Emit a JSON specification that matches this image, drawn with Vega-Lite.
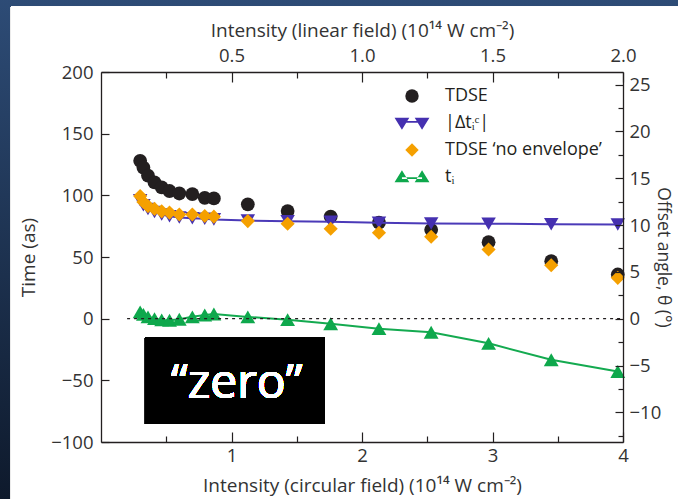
{
  "$schema": "https://vega.github.io/schema/vega-lite/v6.json",
  "width": 522,
  "height": 370,
  "autosize": "none",
  "padding": {"left": 101, "top": 72, "right": 55, "bottom": 57},
  "background": "#1c3150",
  "config": {
    "view": {"stroke": null},
    "font": "Open Sans",
    "axis": {
      "grid": false,
      "zindex": 2,
      "domainColor": "#231f20",
      "domainWidth": 1.3,
      "tickColor": "#231f20",
      "tickWidth": 1.2,
      "labelFont": "Open Sans",
      "labelFontSize": 18.5,
      "labelColor": "#333333",
      "labelFlush": false,
      "labelOverlap": false,
      "titleFont": "Open Sans",
      "titleFontSize": 19,
      "titleFontWeight": "normal",
      "titleColor": "#333333"
    }
  },
  "layer": [
    {
      "data": {
        "values": [
          {"series": "TDSE", "c": 0.30, "t": 128},
          {"series": "TDSE", "c": 0.325, "t": 122.5},
          {"series": "TDSE", "c": 0.36, "t": 116},
          {"series": "TDSE", "c": 0.41, "t": 110.5},
          {"series": "TDSE", "c": 0.465, "t": 106.5},
          {"series": "TDSE", "c": 0.525, "t": 103.5},
          {"series": "TDSE", "c": 0.60, "t": 101.5},
          {"series": "TDSE", "c": 0.70, "t": 101},
          {"series": "TDSE", "c": 0.795, "t": 98},
          {"series": "TDSE", "c": 0.865, "t": 97.5},
          {"series": "TDSE", "c": 1.125, "t": 92.7},
          {"series": "TDSE", "c": 1.43, "t": 87.2},
          {"series": "TDSE", "c": 1.76, "t": 82.7},
          {"series": "TDSE", "c": 2.13, "t": 77.8},
          {"series": "TDSE", "c": 2.53, "t": 72},
          {"series": "TDSE", "c": 2.97, "t": 62},
          {"series": "TDSE", "c": 3.45, "t": 46.6},
          {"series": "TDSE", "c": 3.96, "t": 35.8},
          {"series": "|Δtᵢᶜ|", "c": 0.30, "t": 96},
          {"series": "|Δtᵢᶜ|", "c": 0.325, "t": 92},
          {"series": "|Δtᵢᶜ|", "c": 0.36, "t": 89},
          {"series": "|Δtᵢᶜ|", "c": 0.41, "t": 86.5},
          {"series": "|Δtᵢᶜ|", "c": 0.465, "t": 84.5},
          {"series": "|Δtᵢᶜ|", "c": 0.525, "t": 83},
          {"series": "|Δtᵢᶜ|", "c": 0.60, "t": 82},
          {"series": "|Δtᵢᶜ|", "c": 0.70, "t": 81.5},
          {"series": "|Δtᵢᶜ|", "c": 0.795, "t": 81},
          {"series": "|Δtᵢᶜ|", "c": 0.865, "t": 80.5},
          {"series": "|Δtᵢᶜ|", "c": 1.125, "t": 79.5},
          {"series": "|Δtᵢᶜ|", "c": 1.43, "t": 79},
          {"series": "|Δtᵢᶜ|", "c": 1.76, "t": 78.5},
          {"series": "|Δtᵢᶜ|", "c": 2.13, "t": 77.8},
          {"series": "|Δtᵢᶜ|", "c": 2.53, "t": 77.2},
          {"series": "|Δtᵢᶜ|", "c": 2.97, "t": 77},
          {"series": "|Δtᵢᶜ|", "c": 3.45, "t": 76.6},
          {"series": "|Δtᵢᶜ|", "c": 3.96, "t": 76.4},
          {"series": "TDSE ‘no envelope’", "c": 0.30, "t": 99.4},
          {"series": "TDSE ‘no envelope’", "c": 0.325, "t": 94.6},
          {"series": "TDSE ‘no envelope’", "c": 0.36, "t": 91.3},
          {"series": "TDSE ‘no envelope’", "c": 0.41, "t": 89},
          {"series": "TDSE ‘no envelope’", "c": 0.465, "t": 87},
          {"series": "TDSE ‘no envelope’", "c": 0.525, "t": 86},
          {"series": "TDSE ‘no envelope’", "c": 0.60, "t": 84.5},
          {"series": "TDSE ‘no envelope’", "c": 0.70, "t": 84.5},
          {"series": "TDSE ‘no envelope’", "c": 0.795, "t": 83.2},
          {"series": "TDSE ‘no envelope’", "c": 0.865, "t": 82.7},
          {"series": "TDSE ‘no envelope’", "c": 1.125, "t": 79.1},
          {"series": "TDSE ‘no envelope’", "c": 1.43, "t": 77},
          {"series": "TDSE ‘no envelope’", "c": 1.76, "t": 72.9},
          {"series": "TDSE ‘no envelope’", "c": 2.13, "t": 69.7},
          {"series": "TDSE ‘no envelope’", "c": 2.53, "t": 66.4},
          {"series": "TDSE ‘no envelope’", "c": 2.97, "t": 56.1},
          {"series": "TDSE ‘no envelope’", "c": 3.45, "t": 43.3},
          {"series": "TDSE ‘no envelope’", "c": 3.96, "t": 33.1},
          {"series": "tᵢ", "c": 0.30, "t": 5.5},
          {"series": "tᵢ", "c": 0.325, "t": 3.5},
          {"series": "tᵢ", "c": 0.36, "t": 1.5},
          {"series": "tᵢ", "c": 0.41, "t": 0},
          {"series": "tᵢ", "c": 0.465, "t": -1},
          {"series": "tᵢ", "c": 0.525, "t": -1.3},
          {"series": "tᵢ", "c": 0.60, "t": -0.5},
          {"series": "tᵢ", "c": 0.70, "t": 1.5},
          {"series": "tᵢ", "c": 0.795, "t": 3},
          {"series": "tᵢ", "c": 0.865, "t": 3.8},
          {"series": "tᵢ", "c": 1.125, "t": 1.4},
          {"series": "tᵢ", "c": 1.43, "t": -0.8},
          {"series": "tᵢ", "c": 1.76, "t": -4.1},
          {"series": "tᵢ", "c": 2.13, "t": -8.1},
          {"series": "tᵢ", "c": 2.53, "t": -11},
          {"series": "tᵢ", "c": 2.97, "t": -20},
          {"series": "tᵢ", "c": 3.45, "t": -33.3},
          {"series": "tᵢ", "c": 3.96, "t": -42.8}
        ]
      },
      "layer": [
        {
          "mark": {"type": "rect", "fill": {"gradient": "linear", "x1": 0, "y1": 0, "x2": 0, "y2": 1, "stops": [{"offset": 0, "color": "#2e4d78"}, {"offset": 1, "color": "#0a1322"}]}},
          "encoding": {
            "x": {"datum": -1, "type": "quantitative", "scale": {"domain": [0, 4], "nice": false, "zero": false}},
            "x2": {"datum": 4.6},
            "y": {"datum": 270, "type": "quantitative", "scale": {"domain": [-100, 200], "nice": false, "zero": false}},
            "y2": {"datum": -200}
          }
        },
        {
          "mark": {"type": "rect", "fill": "#ffffff"},
          "encoding": {
            "x": {"datum": -0.69, "type": "quantitative", "scale": {"domain": [0, 4], "nice": false, "zero": false}},
            "x2": {"datum": 4.6},
            "y": {"datum": 253, "type": "quantitative", "scale": {"domain": [-100, 200], "nice": false, "zero": false}},
            "y2": {"datum": -200}
          }
        },
        {
          "mark": {"type": "rect", "fill": "#000000"},
          "encoding": {
            "x": {"datum": 0.337, "type": "quantitative", "scale": {"domain": [0, 4], "nice": false, "zero": false}},
            "x2": {"datum": 1.714},
            "y": {"datum": -15.4, "type": "quantitative", "scale": {"domain": [-100, 200], "nice": false, "zero": false}},
            "y2": {"datum": -85.4}
          }
        },
        {
          "mark": {"type": "text", "text": "“zero”", "font": "Open Sans", "fontSize": 48, "color": "#ffffff", "align": "center", "baseline": "alphabetic"},
          "encoding": {
            "x": {"datum": 1.04, "type": "quantitative", "scale": {"domain": [0, 4], "nice": false, "zero": false}},
            "y": {"datum": -64.2, "type": "quantitative", "scale": {"domain": [-100, 200], "nice": false, "zero": false}}
          }
        },
        {
          "transform": [{"filter": "datum.series === 'TDSE'"}],
          "mark": {"type": "point", "shape": "circle", "filled": true, "opacity": 1, "color": "#231f20", "size": 190},
          "encoding": {
            "x": {
              "field": "c", "type": "quantitative",
              "scale": {"domain": [0, 4], "nice": false, "zero": false},
              "axis": {
                "orient": "bottom",
                "zindex": 2,
                "title": "Intensity (circular field) (10¹⁴ W cm⁻²)",
                "values": [0.5, 1, 1.5, 2, 2.5, 3, 3.5, 4],
                "labelExpr": "datum.value % 1 === 0 ? format(datum.value, 'd') : ''",
                "tickSize": {"condition": {"test": "datum.value % 1 === 0", "value": -10}, "value": -6},
                "labelPadding": 14,
                "titleY": 49,
                "titleBaseline": "alphabetic"
              }
            },
            "y": {
              "field": "t", "type": "quantitative",
              "scale": {"domain": [-100, 200], "nice": false, "zero": false},
              "axis": {
                "orient": "left",
                "zindex": 2,
                "title": "Time (as)",
                "values": [-100, -75, -50, -25, 0, 25, 50, 75, 100, 125, 150, 175, 200],
                "labelExpr": "datum.value % 50 === 0 ? format(datum.value, 'd') : ''",
                "tickSize": {"condition": {"test": "datum.value % 50 === 0", "value": -8}, "value": -5},
                "labelPadding": 16,
                "titleX": -73,
                "titleY": 185,
                "titleAngle": 270,
                "titleAlign": "center",
                "titleBaseline": "middle"
              }
            }
          }
        },
        {
          "transform": [{"filter": "datum.series === '|Δtᵢᶜ|'"}],
          "mark": {"type": "line", "color": "#4b3ab8", "strokeWidth": 2},
          "encoding": {
            "x": {"field": "c", "type": "quantitative", "scale": {"domain": [0, 4], "nice": false, "zero": false}},
            "y": {"field": "t", "type": "quantitative", "scale": {"domain": [-100, 200], "nice": false, "zero": false}}
          }
        },
        {
          "transform": [{"filter": "datum.series === '|Δtᵢᶜ|'"}],
          "mark": {"type": "point", "shape": "triangle-down", "filled": true, "opacity": 1, "color": "#4530b0", "size": 210},
          "encoding": {
            "x": {"field": "c", "type": "quantitative", "scale": {"domain": [0, 4], "nice": false, "zero": false}},
            "y": {"field": "t", "type": "quantitative", "scale": {"domain": [-100, 200], "nice": false, "zero": false}}
          }
        },
        {
          "transform": [{"filter": "datum.series === 'tᵢ'"}],
          "mark": {"type": "line", "color": "#14aa50", "strokeWidth": 2},
          "encoding": {
            "x": {"field": "c", "type": "quantitative", "scale": {"domain": [0, 4], "nice": false, "zero": false}},
            "y": {"field": "t", "type": "quantitative", "scale": {"domain": [-100, 200], "nice": false, "zero": false}}
          }
        },
        {
          "transform": [{"filter": "datum.series === 'tᵢ'"}],
          "mark": {"type": "point", "shape": "triangle-up", "filled": true, "opacity": 1, "color": "#0ea84c", "size": 220},
          "encoding": {
            "x": {"field": "c", "type": "quantitative", "scale": {"domain": [0, 4], "nice": false, "zero": false}},
            "y": {"field": "t", "type": "quantitative", "scale": {"domain": [-100, 200], "nice": false, "zero": false}}
          }
        },
        {
          "transform": [{"filter": "datum.series === 'TDSE ‘no envelope’'"}],
          "mark": {"type": "point", "shape": "diamond", "filled": true, "opacity": 1, "color": "#f5a000", "size": 200},
          "encoding": {
            "x": {"field": "c", "type": "quantitative", "scale": {"domain": [0, 4], "nice": false, "zero": false}},
            "y": {"field": "t", "type": "quantitative", "scale": {"domain": [-100, 200], "nice": false, "zero": false}}
          }
        },
        {
          "transform": [{"filter": "false"}],
          "mark": {"type": "point", "filled": true, "opacity": 1},
          "encoding": {
            "x": {"field": "c", "type": "quantitative", "scale": {"domain": [0, 4], "nice": false, "zero": false}},
            "y": {"field": "t", "type": "quantitative", "scale": {"domain": [-100, 200], "nice": false, "zero": false}},
            "color": {
              "field": "series", "type": "nominal",
              "scale": {"domain": ["TDSE", "|Δtᵢᶜ|", "TDSE ‘no envelope’", "tᵢ"], "range": ["#231f20", "#4530b0", "#f5a000", "#0ea84c"]},
              "legend": {
                "orient": "none", "legendX": 302, "legendY": 15, "title": null, "padding": 0,
                "labelFont": "Open Sans", "labelFontSize": 18, "labelColor": "#231f20",
                "symbolSize": 180, "symbolStrokeWidth": 0, "symbolOpacity": 1,
                "labelOffset": 24, "rowPadding": 9, "zindex": 2
              }
            },
            "shape": {
              "field": "series", "type": "nominal",
              "scale": {
                "domain": ["TDSE", "|Δtᵢᶜ|", "TDSE ‘no envelope’", "tᵢ"],
                "range": [
                  "circle",
                  "M-2.6,-0.8L-0.4,-0.8L-1.5,1.0Z M0.4,-0.8L2.6,-0.8L1.5,1.0Z M-1.5,-0.3L1.5,-0.3L1.5,-0.05L-1.5,-0.05Z",
                  "diamond",
                  "M-2.6,0.8L-0.4,0.8L-1.5,-1.0Z M0.4,0.8L2.6,0.8L1.5,-1.0Z M-1.5,0.05L1.5,0.05L1.5,0.3L-1.5,0.3Z"
                ]
              },
              "legend": {
                "orient": "none", "legendX": 302, "legendY": 15, "title": null, "padding": 0,
                "labelFont": "Open Sans", "labelFontSize": 18, "labelColor": "#231f20",
                "symbolSize": 180, "symbolStrokeWidth": 0, "symbolOpacity": 1,
                "labelOffset": 24, "rowPadding": 9, "zindex": 2
              }
            }
          }
        }
      ]
    },
    {
      "data": {"values": [{}]},
      "mark": {"type": "rule", "strokeDash": [3, 4], "color": "#231f20", "strokeWidth": 1.2},
      "encoding": {
        "x": {
          "datum": 0.1, "type": "quantitative",
          "scale": {"domain": [0, 2], "nice": false, "zero": false},
          "axis": {
            "orient": "top",
            "zindex": 2,
            "title": "Intensity (linear field) (10¹⁴ W cm⁻²)",
            "values": [0.25, 0.5, 0.75, 1, 1.25, 1.5, 1.75, 2],
            "labelExpr": "datum.value % 0.5 === 0 ? format(datum.value, '.1f') : ''",
            "tickSize": {"condition": {"test": "datum.value % 0.5 === 0", "value": -10}, "value": -6},
            "labelPadding": 17,
            "titleY": -36,
            "titleBaseline": "alphabetic"
          }
        },
        "x2": {"datum": 2},
        "y": {
          "datum": 0, "type": "quantitative",
          "scale": {"domain": [-13.17, 26.35], "nice": false, "zero": false},
          "axis": {
            "orient": "right",
            "zindex": 2,
            "title": "Offset angle, θ (°)",
            "values": [-12.5, -10, -7.5, -5, -2.5, 0, 2.5, 5, 7.5, 10, 12.5, 15, 17.5, 20, 22.5, 25],
            "labelExpr": "datum.value % 5 === 0 ? format(datum.value, 'd') : ''",
            "tickSize": {"condition": {"test": "datum.value % 5 === 0", "value": -8}, "value": -5},
            "labelPadding": 14,
            "titleX": 39,
            "titleFontSize": 17.5,
            "titleAngle": 90,
            "titleAlign": "center",
            "titleBaseline": "middle"
          }
        }
      }
    }
  ],
  "resolve": {
    "scale": {"x": "independent", "y": "independent"},
    "axis": {"x": "independent", "y": "independent"}
  }
}
